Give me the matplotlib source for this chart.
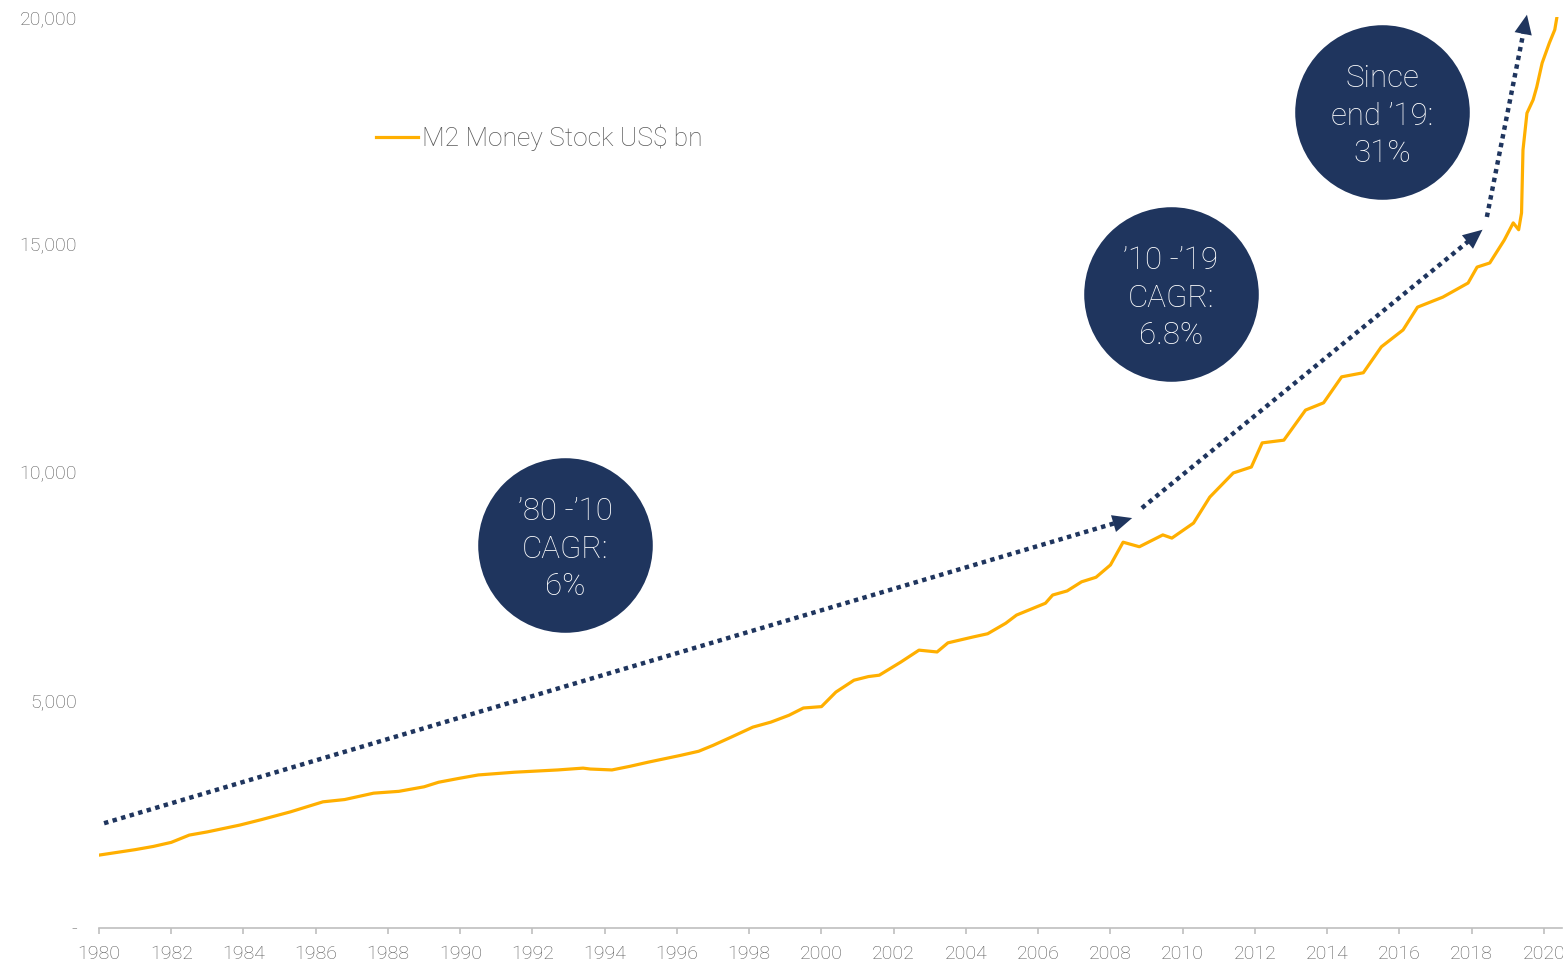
"""M2 money stock with CAGR call-outs."""

import matplotlib

matplotlib.use("Agg")

import matplotlib.pyplot as plt
import numpy as np
from matplotlib.ticker import FuncFormatter

plt.rcParams["font.family"] = ["Roboto", "DejaVu Sans"]

# M2 money stock, US$ bn
years = [
    1980.0, 1980.5, 1981.0, 1981.5, 1982.0, 1982.5, 1983.0, 1983.9, 1984.5, 1985.3,
    1986.2, 1986.8, 1987.6, 1988.3, 1989.0, 1989.4, 1990.0, 1990.5, 1991.5, 1992.7,
    1993.4, 1993.6, 1994.2, 1994.7, 1995.2, 1996.1, 1996.6, 1997.0, 1997.5, 1998.1,
    1998.6, 1999.1, 1999.5, 2000.0, 2000.4, 2000.9, 2001.3, 2001.6, 2002.2, 2002.7,
    2003.2, 2003.5, 2004.2, 2004.6, 2005.1, 2005.4, 2006.2, 2006.4, 2006.8, 2007.2,
    2007.6, 2008.0, 2008.35, 2008.8, 2009.45, 2009.7, 2010.3, 2010.75, 2011.4, 2011.9,
    2012.2, 2012.8, 2013.4, 2013.9, 2014.4, 2015.0, 2015.5, 2016.1, 2016.5, 2017.2,
    2017.9, 2018.15, 2018.5, 2018.9, 2019.15, 2019.3, 2019.38, 2019.42, 2019.53, 2019.7,
    2019.8, 2019.95, 2020.15, 2020.3, 2020.36,
]
m2 = [
    1600, 1660, 1720, 1790, 1880, 2040, 2110, 2260, 2380, 2550,
    2770, 2820, 2960, 3000, 3100, 3200, 3290, 3360, 3420, 3470,
    3510, 3490, 3470, 3550, 3640, 3790, 3880, 4010, 4190, 4410,
    4520, 4670, 4830, 4860, 5180, 5440, 5520, 5550, 5840, 6100,
    6060, 6260, 6390, 6460, 6690, 6870, 7130, 7310, 7400, 7600,
    7700, 7970, 8470, 8370, 8630, 8560, 8890, 9460, 9990, 10120,
    10650, 10710, 11370, 11530, 12100, 12190, 12760, 13130, 13630, 13850,
    14160, 14510, 14600, 15100, 15480, 15330, 15700, 17080, 17890, 18180,
    18460, 18990, 19430, 19720, 20000,
]

# trend arrows: (start year, start value) -> (end year, end value)
arrow_from = [(1980.14, 2300), (2008.87, 9220), (2018.42, 15610)]
arrow_to = [(2008.6, 9000), (2018.3, 15330), (2019.53, 20050)]

# call-out bubbles
bubble_pos = [(1992.9, 8410), (2009.67, 13920), (2015.52, 17915)]
bubble_text = ["’80 -’10\nCAGR:\n6%", "’10 -’19\nCAGR:\n6.8%", "Since\nend ’19:\n31%"]

x_ticks = list(range(1980, 2021, 2))
y_ticks = [0, 5000, 10000, 15000, 20000]

ORANGE = "#FFAF00"
NAVY = "#1F355E"
GREY = "#595959"
AXIS = "#BFBFBF"

fig = plt.figure(figsize=(15.63, 9.63), dpi=100)
ax = fig.add_axes([99 / 1563, 1 - 928 / 963, (1562 - 99) / 1563, (928 - 17) / 963])

ax.plot(years, m2, color=ORANGE, lw=2.3, label="M2 Money Stock US$ bn", zorder=3)

ax.set_xlim(1980, 2020.5)
ax.set_ylim(0, 20000)

HEAD_PX = 17  # where the dotted shaft stops, measured back from the tip
for (x0, y0), (x1, y1) in zip(arrow_from, arrow_to):
    p0, p1 = ax.transData.transform([(x0, y0), (x1, y1)])
    f = 1 - HEAD_PX / np.hypot(*(p1 - p0))
    xm, ym = x0 + f * (x1 - x0), y0 + f * (y1 - y0)
    ax.plot([x0, xm], [y0, ym], color=NAVY, lw=3.2, linestyle=(0, (1, 1)),
            zorder=2, clip_on=False)
    ax.annotate(
        "", xy=(x1, y1), xytext=(xm, ym), annotation_clip=False,
        arrowprops=dict(arrowstyle="-|>,head_length=1.0,head_width=0.45",
                        color=NAVY, lw=0, shrinkA=0, shrinkB=0, mutation_scale=14),
        zorder=2,
    )

bx = [p[0] for p in bubble_pos]
by = [p[1] for p in bubble_pos]
ax.scatter(bx, by, s=15800, color=NAVY, zorder=4, linewidths=0)
for (x, y), t in zip(bubble_pos, bubble_text):
    ax.annotate(t, (x, y), xytext=(0, -3), textcoords="offset points",
                color="white", fontsize=22.5, fontweight="light",
                ha="center", va="center", linespacing=1.37, zorder=5)

ax.set_xticks(x_ticks)
ax.set_yticks(y_ticks)
ax.yaxis.set_major_formatter(FuncFormatter(lambda v, _: "-" if v == 0 else f"{v:,.0f}"))

for side in ["top", "right", "left"]:
    ax.spines[side].set_visible(False)
ax.spines["bottom"].set_color(AXIS)
ax.spines["bottom"].set_linewidth(1.2)
ax.tick_params(axis="x", colors=AXIS, length=4, width=1.2, pad=8,
               labelcolor=GREY, labelsize=14)
ax.tick_params(axis="y", length=0, pad=16, labelcolor=GREY, labelsize=14)
for lab in ax.get_xticklabels() + ax.get_yticklabels():
    lab.set_fontweight("light")

leg = ax.legend(loc="center left", bbox_to_anchor=(376 / 1563, 1 - 138 / 963),
                bbox_transform=fig.transFigure, frameon=False, fontsize=19,
                handlelength=1.6, handletextpad=0.15, borderpad=0, borderaxespad=0)
for t in leg.get_texts():
    t.set_color(GREY)
    t.set_fontweight("light")

fig.savefig("out.png", dpi=100)
plt.close(fig)
